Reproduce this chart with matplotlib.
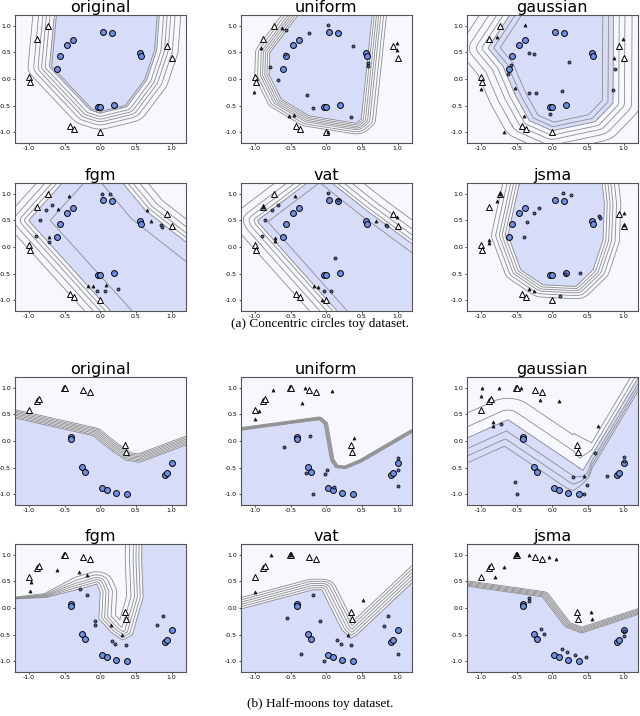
import numpy as np
import matplotlib
matplotlib.use('Agg')
import matplotlib.pyplot as plt
from matplotlib.path import Path

plt.rcParams['axes.unicode_minus'] = False

titles = ['original', 'uniform', 'gaussian', 'fgm', 'vat', 'jsma']

# --- concentric circles: clean points (same in every panel)
circ_pos = [(-0.60, 0.18), (-0.56, 0.44), (-0.46, 0.63), (-0.38, 0.73), (0.04, 0.89), (0.16, 0.87),
            (0.56, 0.49), (0.57, 0.44), (-0.03, -0.53), (0.0, -0.53), (0.19, -0.49)]
circ_neg = [(-0.73, 0.99), (-0.88, 0.75), (0.94, 0.61), (1.0, 0.39), (-1.0, 0.03), (-0.99, -0.05),
            (-0.43, -0.89), (-0.37, -0.93), (0.0, -1.0)]

# boundaries (blue side inside)
circ_orig_bnd = [(-0.60, 1.8), (-0.71, 0.23), (-0.14, -0.58), (0.0, -0.64), (0.37, -0.52), (0.65, -0.02),
                 (0.79, 0.54), (0.86, 1.8)]
circ_unif_bnd = [(-0.06, 1.8), (-0.79, 0.49), (-0.80, 0.08), (-0.63, -0.38), (-0.24, -0.69), (0.42, -0.83),
                 (0.49, -0.75), (0.69, 1.8)]
circ_gaus_bnd = [(-0.30, 1.8), (-0.90, 0.58), (-0.69, 0.24), (-0.51, -0.32), (-0.32, -0.78), (0.0, -0.97),
                 (0.60, -0.80), (0.85, -0.45), (0.86, 1.8)]
circ_fgm_bnd = [(-0.13, 1.8), (-1.0, 0.5), (-0.95, 0.42), (0.55, -1.8), (1.8, -1.8), (1.8, -0.54),
                (0.63, 0.69), (0.32, 1.19), (-0.06, 1.8)]
circ_vat_bnd = [(-0.12, 1.35), (-0.96, 0.5), (-0.94, 0.44), (0.55, -1.8), (1.8, -1.8), (1.8, -0.53),
                (0.56, 0.69), (-0.06, 1.35)]
circ_jsma_bnd = [(-0.36, 1.8), (-0.62, 0.22), (-0.44, -0.43), (-0.13, -0.71), (0.33, -0.74), (0.57, -0.43),
                 (0.71, 0.13), (0.73, 0.81), (0.65, 1.8)]

circ_orig_lv = [-0.3, -0.22, -0.16, -0.11, -0.06, 0.0, 0.03]
circ_unif_lv = [-0.2, -0.16, -0.12, -0.09, -0.06, -0.03, 0.0]
circ_gaus_lv = [-0.38, -0.26, -0.16, -0.08, 0.0, 0.07, 0.15]
circ_fgm_lv = [-0.3, -0.2, -0.12, -0.06, 0.0, 0.25]
circ_vat_lv = [-0.32, -0.2, -0.12, -0.05, 0.0, 0.12]
circ_jsma_lv = [-0.23, -0.17, -0.12, -0.08, -0.04, 0.0]

# adversarial points
circ_unif_tri = [(-0.62, 0.96), (-0.91, 0.59), (-1.01, -0.24), (-0.52, -0.70), (-0.45, -0.67), (0.03, -0.99),
                 (0.99, 0.68), (0.99, 0.55)]
circ_unif_dot = [(-0.57, 0.91), (-0.24, 0.86), (0.02, 1.01), (0.37, 0.62), (-0.58, 0.47), (-0.79, 0.23),
                 (-0.67, -0.01), (-0.27, -0.30), (-0.18, -0.55), (0.34, -0.72), (0.59, 0.30), (0.59, 0.24)]
circ_gaus_tri = [(-0.38, 1.01), (-0.78, 0.78), (-1.0, -0.18), (-0.52, -0.17), (-0.39, -0.70), (-0.67, -0.99),
                 (0.995, 0.75), (0.86, 0.39)]
circ_gaus_dot = [(-0.33, 0.49), (-0.26, 0.47), (-0.58, 0.26), (-0.62, 0.10), (0.24, 0.31), (0.88, 0.19),
                 (0.85, -0.20), (0.14, -0.23), (-0.32, -0.27), (-0.23, -0.27), (-0.03, -0.66)]
circ_fgm_tri = [(-0.44, 0.96), (-0.59, 0.71), (-0.72, 0.18), (-0.17, -0.73), (-0.10, -0.74), (0.08, -0.71),
                (0.65, 0.70), (0.71, 0.48)]
circ_fgm_dot = [(0.02, 1.0), (0.13, 1.0), (-0.68, 0.79), (-0.76, 0.70), (-0.85, 0.50), (-0.90, 0.21),
                (-0.72, 0.10), (-0.05, -0.82), (0.07, -0.82), (0.25, -0.78), (0.85, 0.41), (0.86, 0.38)]
circ_vat_tri = [(-0.44, 0.96), (-0.88, 0.75), (-0.72, 0.17), (-0.72, 0.11), (-0.17, -0.73), (-0.12, -0.75),
                (-0.06, -0.99), (0.70, 0.48), (0.99, 0.56)]
circ_vat_dot = [(0.02, 1.01), (-0.68, 0.79), (-0.76, 0.70), (-0.86, 0.50), (-0.90, 0.21), (0.12, -0.20),
                (-0.03, -0.83), (0.07, -0.82), (0.84, 0.42), (0.85, 0.39), (0.16, 0.88)]
circ_jsma_tri = [(-0.78, 0.86), (-0.89, 0.14), (-0.88, 0.07), (-0.32, -0.79), (-0.26, -0.82), (1.0, 0.63),
                 (-0.73, 0.99), (1.0, 0.41)]
circ_jsma_dot = [(0.15, 1.01), (0.26, 0.98), (-0.18, 0.74), (-0.26, 0.64), (-0.36, 0.46), (-0.40, 0.19),
                 (0.66, 0.59), (0.67, 0.55), (0.39, -0.49), (0.18, -0.51), (0.11, -0.91)]

# --- half moons: clean points
moon_pos = [(-0.41, 0.08), (-0.41, 0.03), (-0.26, -0.49), (-0.21, -0.59), (0.03, -0.875), (0.10, -0.925),
            (0.22, -0.975), (0.37, -1.0), (0.91, -0.63), (0.93, -0.60), (1.0, -0.42)]
moon_neg = [(-0.995, 0.58), (-0.88, 0.745), (-0.86, 0.78), (-0.51, 0.99), (-0.49, 0.99), (-0.245, 0.96),
            (-0.15, 0.91), (0.34, -0.08), (0.36, -0.20)]

moon_orig_bnd = [(-3, 0.97), (-1.19, 0.43), (-0.10, 0.10), (0.13, -0.15), (0.36, -0.36), (0.55, -0.40),
                 (1.19, -0.08), (3, 0.82), (3, -3), (-3, -3)]
moon_unif_bnd = [(-3, -0.13), (-1.2, 0.2), (-0.1, 0.40), (-0.03, 0.32), (0.06, -0.36), (0.13, -0.50),
                 (0.27, -0.52), (0.5, -0.39), (1.19, 0.15), (3, 1.56), (3, -3), (-3, -3)]
moon_gaus_bnd = [(-3, -1.03), (-1.2, 0.05), (-0.62, 0.40), (0.43, -0.55), (2.01, 3), (3, 3), (3, -3), (-3, -3)]
moon_fgm_bnd = [(-3, 0.1), (-1.2, 0.17), (-0.75, 0.2), (-0.25, 0.37), (-0.05, 0.45), (0.0, 0.3), (-0.02, -0.2),
                (0.15, -0.45), (0.31, -0.6), (0.45, -0.5), (0.6, 0.2), (0.58, 0.9), (0.6, 3), (3, 3),
                (3, -3), (-3, -3)]
moon_vat_bnd = [(-3, -0.66), (-1.2, -0.02), (-0.19, 0.34), (-0.06, 0.34), (0.22, -0.41), (0.34, -0.57),
                (0.43, -0.50), (1.19, 0.46), (3.2, 3), (4, 3), (4, -3), (-3, -3)]
moon_jsma_bnd = [(-3, 0.75), (-1.2, 0.41), (-0.14, 0.21), (0.18, -0.35), (0.41, -0.47), (1.18, -0.13),
                 (3, 0.67), (3, -3), (-3, -3)]

moon_orig_lv = [-0.15, -0.125, -0.1, -0.075, -0.05, -0.025, 0.0]
moon_unif_lv = [-0.05, -0.04, -0.03, -0.02, -0.01, 0.0]
moon_gaus_lv = [-0.4, -0.18, 0.0, 0.17, 0.29, 0.4]
moon_fgm_lv = [-0.23, -0.17, -0.12, -0.08, -0.04, 0.0]
moon_vat_lv = [-0.2, -0.16, -0.12, -0.08, -0.04, 0.0]
moon_jsma_lv = [-0.1, -0.08, -0.06, -0.04, -0.02, 0.0]

# how wide the contour fan is along x (1 = as levels say)
moon_gaus_spread = ([-1.2, 0.3, 0.55, 1.2], [1.0, 1.0, 0.25, 0.25])
moon_fgm_spread = ([-1.2, -0.8, -0.35, 1.2], [0.15, 0.3, 1.0, 1.0])

moon_unif_tri = [(-0.74, 0.96), (-0.30, 0.99), (0.08, 0.94), (-0.34, 0.71), (-0.94, 0.56), (-1.0, 0.42),
                 (0.39, 0.06)]
moon_unif_dot = [(-0.59, -0.12), (-0.23, 0.09), (0.01, -0.55), (-0.02, -0.62), (-0.29, -0.60), (-0.19, -0.99),
                 (0.11, -0.86), (1.0, -0.32), (1.0, -0.55), (1.0, -0.84)]
moon_gaus_tri = [(-0.98, 1.0), (-1.0, 0.85), (-0.75, 1.0), (-0.44, 1.0), (-0.17, 0.76), (0.10, 0.75),
                 (-0.83, 0.35), (-0.83, 0.29), (0.64, 0.28), (0.45, -0.66)]
moon_gaus_dot = [(-0.72, 0.31), (-0.52, -0.76), (-0.49, -1.0), (0.29, -0.67), (0.60, -0.22), (0.49, -0.83),
                 (0.45, -1.0), (0.76, -0.65), (1.0, -0.30), (1.0, -0.37)]
moon_fgm_tri = [(-0.61, 0.71), (-0.30, 0.67), (-0.18, 0.61), (-0.99, 0.32), (-0.97, 0.49), (0.15, -0.32),
                (0.31, -0.50)]
moon_fgm_dot = [(-0.29, 0.35), (-0.19, 0.24), (-0.08, -0.24), (-0.08, -0.32), (0.16, -0.61), (0.21, -0.67),
                (0.36, -0.70), (0.88, -0.15), (0.80, -0.32)]
moon_vat_tri = [(-0.78, 1.0), (-1.0, 0.30), (0.52, 0.15), (0.31, -0.50), (-0.49, 1.0)]
moon_vat_dot = [(-0.19, 0.24), (-0.55, -0.19), (-0.09, -0.24), (0.15, -0.60), (0.21, -0.68), (0.35, -0.70),
                (-0.35, -0.86), (-0.03, -1.0), (0.81, -0.34), (0.87, -0.15), (1.0, -0.86)]
moon_jsma_tri = [(-0.80, 0.58), (-0.32, 1.0), (-0.05, 0.96), (0.05, 0.91), (0.54, -0.08), (0.55, -0.20),
                 (-0.67, 0.77), (-0.50, 1.0)]
moon_jsma_dot = [(-0.32, 0.18), (-0.32, 0.14), (-0.16, -0.39), (-0.11, -0.49), (0.14, -0.77), (0.20, -0.83),
                 (0.32, -0.89), (0.47, -0.91), (1.0, -0.44), (1.0, -0.52)]

circ_panels = [
    (circ_orig_bnd, circ_orig_lv, [], [], None),
    (circ_unif_bnd, circ_unif_lv, circ_unif_tri, circ_unif_dot, None),
    (circ_gaus_bnd, circ_gaus_lv, circ_gaus_tri, circ_gaus_dot, None),
    (circ_fgm_bnd, circ_fgm_lv, circ_fgm_tri, circ_fgm_dot, None),
    (circ_vat_bnd, circ_vat_lv, circ_vat_tri, circ_vat_dot, None),
    (circ_jsma_bnd, circ_jsma_lv, circ_jsma_tri, circ_jsma_dot, None),
]
moon_panels = [
    (moon_orig_bnd, moon_orig_lv, [], [], None),
    (moon_unif_bnd, moon_unif_lv, moon_unif_tri, moon_unif_dot, None),
    (moon_gaus_bnd, moon_gaus_lv, moon_gaus_tri, moon_gaus_dot, moon_gaus_spread),
    (moon_fgm_bnd, moon_fgm_lv, moon_fgm_tri, moon_fgm_dot, moon_fgm_spread),
    (moon_vat_bnd, moon_vat_lv, moon_vat_tri, moon_vat_dot, None),
    (moon_jsma_bnd, moon_jsma_lv, moon_jsma_tri, moon_jsma_dot, None),
]

g = np.linspace(-1.2, 1.2, 301)
X, Y = np.meshgrid(g, g)


def signed_dist(poly):
    P = np.array(poly, dtype=float)
    d = np.full(X.shape, np.inf)
    for a, b in zip(P, np.roll(P, -1, axis=0)):
        vx, vy = b - a
        t = np.clip(((X - a[0]) * vx + (Y - a[1]) * vy) / (vx * vx + vy * vy), 0, 1)
        d = np.minimum(d, np.hypot(X - a[0] - t * vx, Y - a[1] - t * vy))
    inside = Path(P).contains_points(np.c_[X.ravel(), Y.ravel()]).reshape(X.shape)
    return np.where(inside, d, -d)


C_IN = '#d7ddf9'
C_OUT = '#f7f8fe'
C_LINE = '#8c8c8c'

fig = plt.figure(figsize=(6.4, 7.16), dpi=100)
W, H = 640.0, 716.0
col_left = [14.5, 240.5, 466.5]
row_top = [15, 183, 377, 544]
aw, ah = 171.5, 128


def draw(ax, panel, pos, neg, title):
    bnd, lv, tri, dot, spread = panel
    D = signed_dist(bnd)
    if spread is not None:
        D = D / np.interp(X, spread[0], spread[1])
    ax.contourf(X, Y, D, levels=[-50, 0, 50], colors=[C_OUT, C_IN])
    ax.contour(X, Y, D, levels=sorted(lv), colors=C_LINE, linewidths=0.6, linestyles='solid')
    p = np.array(pos)
    n = np.array(neg)
    ax.scatter(p[:, 0], p[:, 1], s=18, c='#6e8fe6', edgecolors='k', linewidths=0.7, zorder=3)
    ax.scatter(n[:, 0], n[:, 1], s=18, marker='^', c='white', edgecolors='k', linewidths=0.7, zorder=3)
    if len(dot):
        d = np.array(dot)
        ax.scatter(d[:, 0], d[:, 1], s=5, c='#58689a', edgecolors='k', linewidths=0.5, zorder=4)
    if len(tri):
        t = np.array(tri)
        ax.scatter(t[:, 0], t[:, 1], s=5, marker='^', c='#222222', edgecolors='k', linewidths=0.4, zorder=4)
    ax.set_xlim(-1.2, 1.2)
    ax.set_ylim(-1.2, 1.2)
    ticks = [-1.0, -0.5, 0.0, 0.5, 1.0]
    ax.set_xticks(ticks)
    ax.set_yticks(ticks)
    ax.set_xticklabels(['%.1f' % v for v in ticks])
    ax.set_yticklabels(['%.1f' % v for v in ticks])
    ax.tick_params(labelsize=4.5, length=1.5, width=0.5, pad=1)
    for s in ax.spines.values():
        s.set_color('#555555')
        s.set_linewidth(0.8)
    ax.set_title(title, fontsize=11.5, pad=1)


for k in range(12):
    r, c = k // 3, k % 3
    ax = fig.add_axes([col_left[c] / W, 1 - (row_top[r] + ah) / H, aw / W, ah / H])
    if r < 2:
        draw(ax, circ_panels[k], circ_pos, circ_neg, titles[k])
    else:
        draw(ax, moon_panels[k - 6], moon_pos, moon_neg, titles[k - 6])

fig.text(0.5, 1 - 324 / H, '(a) Concentric circles toy dataset.', ha='center', va='center',
         family='Liberation Serif', fontsize=9.5)
fig.text(0.5, 1 - 704 / H, '(b) Half-moons toy dataset.', ha='center', va='center',
         family='Liberation Serif', fontsize=9.5)

fig.savefig('out.png', dpi=100)
